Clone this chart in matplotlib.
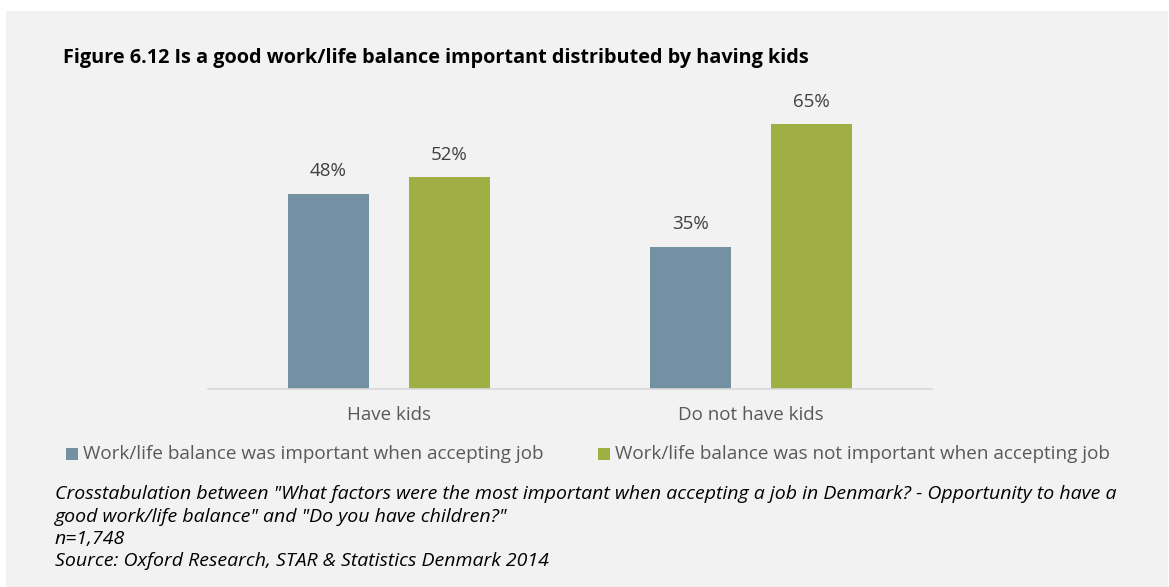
import numpy as np
import matplotlib.pyplot as plt
from matplotlib.patches import Rectangle

categories = ["Have kids", "Do not have kids"]
important = [48, 35]
not_important = [52, 65]
series_names = ["Work/life balance was important when accepting job",
                "Work/life balance was not important when accepting job"]

blue = "#7491a3"
green = "#9faf44"
bg = "#f2f2f2"

plt.rcParams['font.family'] = ['Open Sans', 'DejaVu Sans']

fig = plt.figure(figsize=(11.69, 5.87), dpi=100, facecolor="white")
W, H = 1169, 587

# grey panel
fig.patches.append(Rectangle((6 / W, 0), (1168 - 6) / W, (587 - 11) / H,
                             transform=fig.transFigure, facecolor=bg,
                             edgecolor="none", zorder=-1))

# axes: x from 208 to 932 px, baseline at y=389 px, top at y=100 px
ax = fig.add_axes([208 / W, (H - 389) / H, (932 - 208) / W, (389 - 100) / H])
ax.set_facecolor("none")

x = np.arange(len(categories))
w = 0.224
off = 0.167
b1 = ax.bar(x - off, important, w, color=blue, zorder=2)
b2 = ax.bar(x + off, not_important, w, color=green, zorder=2)

for bars, vals in [(b1, important), (b2, not_important)]:
    for b, v in zip(bars, vals):
        ax.text(b.get_x() + b.get_width() / 2, v + 5.5, f"{v}%",
                ha="center", va="center", fontsize=13.5, color="#404040")

ax.set_xlim(-0.5, 1.5)
ax.set_ylim(0, (389 - 100) / 4.07)
ax.set_yticks([])
ax.set_xticks(x)
ax.set_xticklabels(categories, fontsize=13.5, color="#595959")
ax.tick_params(axis="x", length=0, pad=12)
for s in ["top", "right", "left"]:
    ax.spines[s].set_visible(False)
ax.spines["bottom"].set_color("#d9d9d9")
ax.spines["bottom"].set_linewidth(1.2)

fig.text(63 / W, 1 - 58 / H,
         "Figure 6.12 Is a good work/life balance important distributed by having kids",
         fontsize=14.3, fontweight="bold", color="black", va="center")

# legend
fig.patches.append(Rectangle((66 / W, 1 - 460 / H), 12 / W, 12 / H,
                             transform=fig.transFigure, facecolor=blue, edgecolor="none"))
fig.text(83 / W, 1 - 454 / H, series_names[0], fontsize=13.6, color="#595959", va="center")
fig.patches.append(Rectangle((598 / W, 1 - 460 / H), 12 / W, 12 / H,
                             transform=fig.transFigure, facecolor=green, edgecolor="none"))
fig.text(615 / W, 1 - 454 / H, series_names[1], fontsize=13.6, color="#595959", va="center")

notes = ['Crosstabulation between "What factors were the most important when accepting a job in Denmark? - Opportunity to have a',
         'good work/life balance" and "Do you have children?"',
         'n=1,748',
         'Source: Oxford Research, STAR & Statistics Denmark 2014']
for i, t in enumerate(notes):
    fig.text(55 / W, 1 - (494 + i * 22.5) / H, t, fontsize=14,
             style="italic", color="black", va="center")

fig.savefig("out.png", dpi=100, facecolor="white")
